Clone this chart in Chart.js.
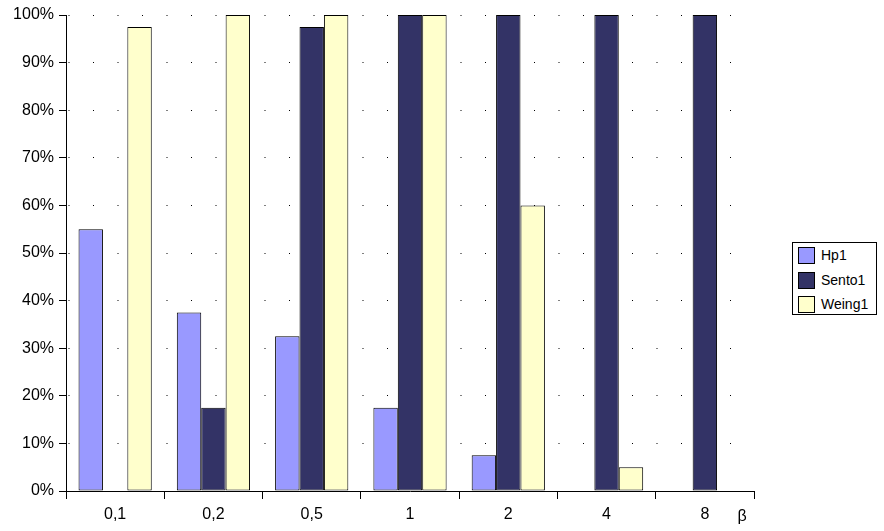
<!DOCTYPE html>
<html>
<head>
<meta charset="utf-8">
<script src="https://cdn.jsdelivr.net/npm/chart.js@4.4.0/dist/chart.umd.min.js"></script>
<style>
  body { margin: 0; background: #fff; }
  #wrap { position: relative; width: 884px; height: 531px; }
  #legend {
    position: absolute; left: 792px; top: 242px; width: 83px; height: 71px;
    border: 1px solid #000; background: #fff;
    font-family: Arial, "Liberation Sans", sans-serif; font-size: 14px; color: #000;
    box-sizing: content-box;
  }
  .item { position: absolute; left: 5px; height: 17px; line-height: 17px; white-space: nowrap; }
  .sw { display: inline-block; width: 15px; height: 15px; border: 1px solid #000; vertical-align: top; margin-right: 6px; }
</style>
</head>
<body>
<div id="wrap">
  <canvas id="chart" width="884" height="531"></canvas>
  <div id="legend"></div>
</div>
<script>
// Categories (beta values) and series
const categories = ['0,1', '0,2', '0,5', '1', '2', '4', '8'];
const hp1 = [55, 37.5, 32.5, 17.5, 7.5, 0, 0];
const sento1 = [0, 17.5, 97.5, 100, 100, 100, 100];
const weing1 = [97.5, 100, 100, 100, 60, 5, 0];
const yTicks = [0, 10, 20, 30, 40, 50, 60, 70, 80, 90, 100];

const seriesNames = ['Hp1', 'Sento1', 'Weing1'];
const seriesColors = ['#9999FF', '#333366', '#FFFFCC'];
const seriesValues = [hp1, sento1, weing1];

const fontFamily = 'Arial, "Liberation Sans", sans-serif';

// Draws the "β" axis label at the right end of the x axis
const betaLabel = {
    id: 'betaLabel',
    afterDraw(chart) {
        const ctx = chart.ctx;
        const area = chart.chartArea;
        ctx.save();
        ctx.fillStyle = '#000';
        ctx.font = '16px ' + fontFamily;
        ctx.textAlign = 'center';
        ctx.textBaseline = 'middle';
        ctx.fillText('β', area.right - 12, 517);
        ctx.restore();
    }
};

const ctx = document.getElementById('chart').getContext('2d');
const chart = new Chart(ctx, {
    type: 'bar',
    data: {
        labels: categories,
        datasets: seriesNames.map((name, i) => ({
            label: name,
            data: seriesValues[i],
            backgroundColor: seriesColors[i],
            borderColor: '#000',
            borderWidth: 1,
            borderSkipped: false,
            barPercentage: 1.0,
            categoryPercentage: 0.745
        }))
    },
    options: {
        responsive: false,
        animation: false,
        layout: {
            padding: { left: 0, top: 15, right: 130, bottom: 0 }
        },
        scales: {
            x: {
                grid: {
                    drawOnChartArea: false,
                    drawTicks: true,
                    tickLength: 8,
                    tickColor: '#000',
                    offset: true
                },
                border: { color: '#000', width: 1 },
                ticks: {
                    color: '#000',
                    font: { family: fontFamily, size: 16 },
                    padding: 6,
                    maxRotation: 0
                },
                afterFit(scale) { scale.height = 40; }
            },
            y: {
                min: 0,
                max: 100,
                afterBuildTicks(scale) {
                    scale.ticks = yTicks.map(v => ({ value: v }));
                },
                grid: {
                    color: '#000',
                    lineWidth: 1,
                    tickLength: 7,
                    tickColor: '#000',
                    tickBorderDash: []
                },
                border: { color: '#000', width: 1, dash: [1, 23.5], dashOffset: 23 },
                ticks: {
                    color: '#000',
                    font: { family: fontFamily, size: 16 },
                    padding: 5,
                    callback: v => v + '%'
                },
                afterFit(scale) { scale.width = 66; }
            }
        },
        plugins: {
            legend: { display: false },
            tooltip: { enabled: false }
        }
    },
    plugins: [betaLabel]
});

// Legend box on the right
const legend = document.getElementById('legend');
seriesNames.forEach((name, i) => {
    const item = document.createElement('div');
    item.className = 'item';
    item.style.top = (4 + i * 24.5) + 'px';
    item.innerHTML = '<span class="sw" style="background:' + seriesColors[i] + '"></span>' + name;
    legend.appendChild(item);
});
</script>
</body>
</html>
